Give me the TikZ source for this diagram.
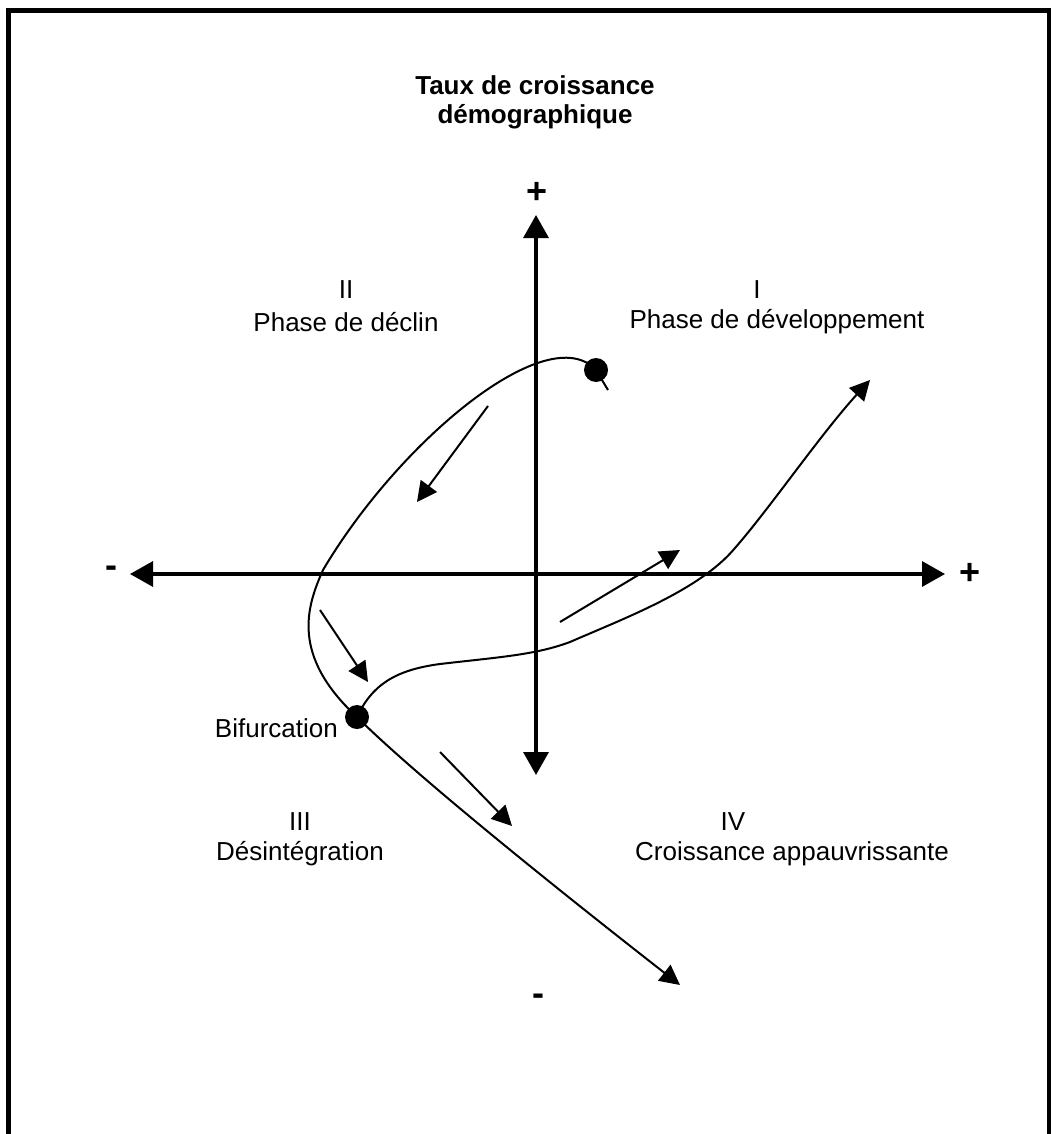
\documentclass[tikz,border=0pt]{standalone}
\usepackage{fontspec}
\setmainfont{Liberation Sans}
\usetikzlibrary{arrows.meta}
\begin{document}
\begin{tikzpicture}[x=1pt,y=-1pt,
  lbl/.style={font=\fontsize{26}{32}\selectfont, inner sep=0pt, anchor=center},
  ttl/.style={font=\fontsize{26}{29}\selectfont\bfseries, align=center, inner sep=0pt},
  sgn/.style={font=\fontsize{36}{36}\selectfont\bfseries, inner sep=0pt},
  axisline/.style={line width=3.3pt, {Triangle[length=23pt,width=25pt]}-{Triangle[length=23pt,width=25pt]}},
  curve/.style={line width=2pt},
  flow/.style={line width=2pt, -{Triangle[length=20pt,width=20pt]}},
  dot/.style={circle, fill=black, minimum size=24pt, inner sep=0pt}]
\useasboundingbox (0,0) rectangle (1055,1134);
% frame (open at bottom)
\draw[line width=4.5pt] (8.5,1140) -- (8.5,10.5) -- (1049,10.5) -- (1049,1140);

% title
\node[ttl] (title) at (535,102) {Taux de croissance\\démographique};

% axes
\coordinate (xl) at (130,574);
\coordinate (xr) at (945,574);
\coordinate (yt) at (536,215);
\coordinate (yb) at (536,775);
\draw[axisline] (xl) -- (xr);
\draw[axisline] (yb) -- (yt);
\node[sgn] (plustop) at (537,193) {+};
\node[sgn] (minusbot) at (538,1000) {-};
\node[sgn] (minusleft) at (111,572) {-};
\node[sgn] (plusright) at (970,574) {+};

% quadrant labels
\node[lbl] (q2n) at (346,290) {II};
\node[lbl] (q2t) at (346,322) {Phase de déclin};
\node[lbl] (q1n) at (757,290) {I};
\node[lbl] (q1t) at (777,322) {Phase de développement};
\node[lbl] (q3n) at (300,822) {III};
\node[lbl] (q3t) at (300,854) {Désintégration};
\node[lbl] (q4n) at (733,822) {IV};
\node[lbl] (q4t) at (792,854) {Croissance appauvrissante};
\node[lbl, anchor=east] (bif) at (338,728) {Bifurcation};

% points of the trajectories
\coordinate (tail) at (608,390);
\coordinate (p0) at (596,370);
\coordinate (p2) at (323,570);
\coordinate (pb) at (357,717);
\coordinate (pend) at (680,985);
\coordinate (b1) at (440,664);
\coordinate (b2) at (570,642);
\coordinate (b3) at (735,548);
\coordinate (bend) at (870,380);

% main trajectory
\draw[curve, -{Triangle[length=20pt,width=20pt]}]
  (tail) -- (p0)
  .. controls (548,318) and (400,440) .. (p2)
  .. controls (307,606) and (290,655) .. (pb)
  .. controls (405,765) and (520,860) .. (pend);

% branch from bifurcation
\draw[curve, -{Triangle[length=20pt,width=20pt]}]
  (pb) .. controls (372,685) and (395,670) .. (b1)
  .. controls (500,657) and (535,655) .. (b2)
  .. controls (625,618) and (700,590) .. (b3)
  .. controls (770,508) and (820,435) .. (bend);

% dots
\node[dot] (start) at (p0) {};
\node[dot] (bifdot) at (pb) {};

% direction arrows
\coordinate (a1s) at (488,406); \coordinate (a1e) at (417,502);
\coordinate (a2s) at (320,610); \coordinate (a2e) at (368,682);
\coordinate (a3s) at (440,752); \coordinate (a3e) at (512,826);
\coordinate (a4s) at (560,622); \coordinate (a4e) at (680,550);
\draw[flow] (a1s) -- (a1e);
\draw[flow] (a2s) -- (a2e);
\draw[flow] (a3s) -- (a3e);
\draw[flow] (a4s) -- (a4e);
\end{tikzpicture}
\end{document}
